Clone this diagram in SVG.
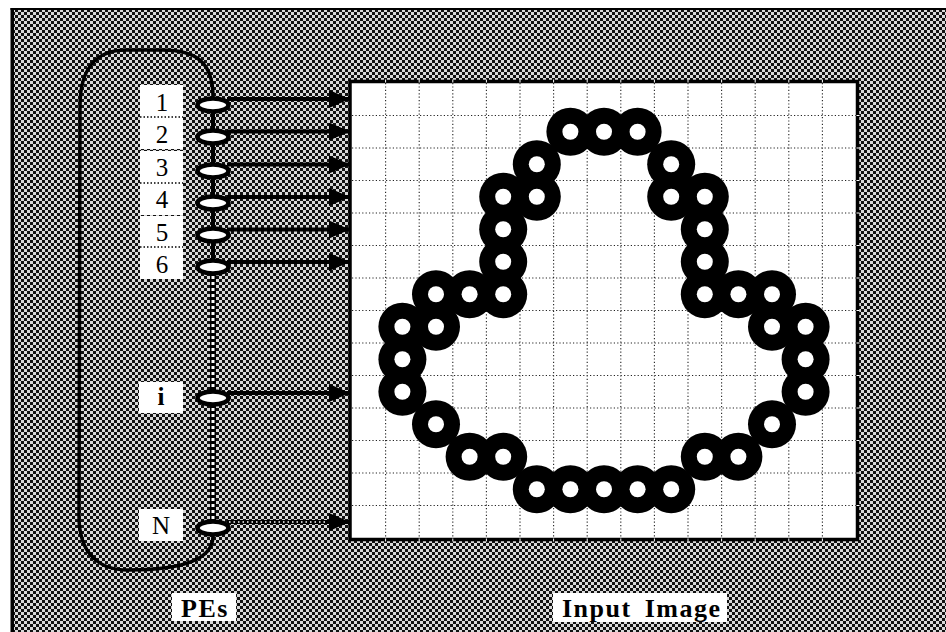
<svg xmlns="http://www.w3.org/2000/svg" xmlns:xlink="http://www.w3.org/1999/xlink" width="946" height="632" viewBox="0 0 946 632">
<defs>
  <pattern id="ht" width="6" height="6" patternUnits="userSpaceOnUse">
    <rect width="6" height="6" fill="#d8d8d8"/>
    <rect width="3" height="3" fill="#111"/>
    <rect x="3" y="3" width="3" height="3" fill="#111"/>
  </pattern>
  <marker id="ah" markerUnits="userSpaceOnUse" markerWidth="21" markerHeight="18" refX="20" refY="9" orient="auto">
    <path d="M0,0 L21,9 L0,18 z" fill="#000"/>
  </marker>
  <circle id="disc" r="24" fill="#000"/>
  <circle id="hole" r="8" fill="#fff"/>
</defs>
<style>
  .num { font-family: "Liberation Serif", "Times New Roman", serif; font-size: 25px; fill: #000; text-anchor: middle; }
  .big { font-family: "Liberation Serif", "Times New Roman", serif; font-size: 26px; font-weight: bold; fill: #000; letter-spacing: 1.5px; }
  .box { fill: #fff; }
  .sep { stroke: #000; stroke-width: 1.3; stroke-dasharray: 1.5 2; fill: none; }
  .pe { fill: #fff; stroke: #000; stroke-width: 4.5; }
  .arr { stroke: #000; stroke-width: 4; fill: none; marker-end: url(#ah); }
  .grid { stroke: #222; stroke-width: 1.1; stroke-dasharray: 1.2 2.2; fill: none; }
</style>

<!-- background -->
<rect x="0" y="0" width="946" height="632" fill="#fff"/>
<rect x="12" y="9" width="934" height="623" fill="url(#ht)"/>
<rect x="10.5" y="8" width="3.5" height="624" fill="#000"/>
<rect x="10.5" y="8" width="935.5" height="2" fill="#000"/>

<!-- input image -->
<g id="input-image">
  <rect x="350" y="81.5" width="507.5" height="458" fill="#fff" stroke="#000" stroke-width="3.5"/>
  <path class="grid" d="M385.6 83V538 M419.2 83V538 M452.8 83V538 M486.4 83V538 M520 83V538 M553.6 83V538 M587.2 83V538 M620.8 83V538 M654.4 83V538 M688 83V538 M721.6 83V538 M755.2 83V538 M788.8 83V538 M822.4 83V538
  M352 115.5H856 M352 148H856 M352 180.5H856 M352 213H856 M352 245.5H856 M352 278H856 M352 310.5H856 M352 343H856 M352 375.5H856 M352 408H856 M352 440.5H856 M352 473H856 M352 505.5H856"/>
  <path stroke="#fff" stroke-width="1" fill="none" d="M385.6 79.5v3 M419.2 79.5v3 M452.8 79.5v3 M486.4 79.5v3 M520 79.5v3 M553.6 79.5v3 M587.2 79.5v3 M620.8 79.5v3 M654.4 79.5v3 M688 79.5v3 M721.6 79.5v3 M755.2 79.5v3 M788.8 79.5v3 M822.4 79.5v3
  M385.6 538.5v3 M419.2 538.5v3 M452.8 538.5v3 M486.4 538.5v3 M520 538.5v3 M553.6 538.5v3 M587.2 538.5v3 M620.8 538.5v3 M654.4 538.5v3 M688 538.5v3 M721.6 538.5v3 M755.2 538.5v3 M788.8 538.5v3 M822.4 538.5v3
  M856.5 115.5h3 M856.5 148h3 M856.5 180.5h3 M856.5 213h3 M856.5 245.5h3 M856.5 278h3 M856.5 310.5h3 M856.5 343h3 M856.5 375.5h3 M856.5 408h3 M856.5 440.5h3 M856.5 473h3 M856.5 505.5h3"/>
  <g id="rings">
    <use href="#disc" x="570.4" y="131.75"/><use href="#disc" x="604" y="131.75"/><use href="#disc" x="637.6" y="131.75"/>
    <use href="#disc" x="536.8" y="164.25"/><use href="#disc" x="671.2" y="164.25"/>
    <use href="#disc" x="503.2" y="196.75"/><use href="#disc" x="536.8" y="196.75"/><use href="#disc" x="671.2" y="196.75"/><use href="#disc" x="704.8" y="196.75"/>
    <use href="#disc" x="503.2" y="229.25"/><use href="#disc" x="704.8" y="229.25"/>
    <use href="#disc" x="503.2" y="261.75"/><use href="#disc" x="704.8" y="261.75"/>
    <use href="#disc" x="436" y="294.25"/><use href="#disc" x="469.6" y="294.25"/><use href="#disc" x="503.2" y="294.25"/><use href="#disc" x="704.8" y="294.25"/><use href="#disc" x="738.4" y="294.25"/><use href="#disc" x="772" y="294.25"/>
    <use href="#disc" x="402.4" y="326.75"/><use href="#disc" x="436" y="326.75"/><use href="#disc" x="772" y="326.75"/><use href="#disc" x="805.6" y="326.75"/>
    <use href="#disc" x="402.4" y="359.25"/><use href="#disc" x="805.6" y="359.25"/>
    <use href="#disc" x="402.4" y="391.75"/><use href="#disc" x="805.6" y="391.75"/>
    <use href="#disc" x="436" y="424.25"/><use href="#disc" x="772" y="424.25"/>
    <use href="#disc" x="469.6" y="456.75"/><use href="#disc" x="503.2" y="456.75"/><use href="#disc" x="704.8" y="456.75"/><use href="#disc" x="738.4" y="456.75"/>
    <use href="#disc" x="536.8" y="489.25"/><use href="#disc" x="570.4" y="489.25"/><use href="#disc" x="604" y="489.25"/><use href="#disc" x="637.6" y="489.25"/><use href="#disc" x="671.2" y="489.25"/>
  </g>
  <g id="holes">
    <use href="#hole" x="570.4" y="131.75"/><use href="#hole" x="604" y="131.75"/><use href="#hole" x="637.6" y="131.75"/>
    <use href="#hole" x="536.8" y="164.25"/><use href="#hole" x="671.2" y="164.25"/>
    <use href="#hole" x="503.2" y="196.75"/><use href="#hole" x="536.8" y="196.75"/><use href="#hole" x="671.2" y="196.75"/><use href="#hole" x="704.8" y="196.75"/>
    <use href="#hole" x="503.2" y="229.25"/><use href="#hole" x="704.8" y="229.25"/>
    <use href="#hole" x="503.2" y="261.75"/><use href="#hole" x="704.8" y="261.75"/>
    <use href="#hole" x="436" y="294.25"/><use href="#hole" x="469.6" y="294.25"/><use href="#hole" x="503.2" y="294.25"/><use href="#hole" x="704.8" y="294.25"/><use href="#hole" x="738.4" y="294.25"/><use href="#hole" x="772" y="294.25"/>
    <use href="#hole" x="402.4" y="326.75"/><use href="#hole" x="436" y="326.75"/><use href="#hole" x="772" y="326.75"/><use href="#hole" x="805.6" y="326.75"/>
    <use href="#hole" x="402.4" y="359.25"/><use href="#hole" x="805.6" y="359.25"/>
    <use href="#hole" x="402.4" y="391.75"/><use href="#hole" x="805.6" y="391.75"/>
    <use href="#hole" x="436" y="424.25"/><use href="#hole" x="772" y="424.25"/>
    <use href="#hole" x="469.6" y="456.75"/><use href="#hole" x="503.2" y="456.75"/><use href="#hole" x="704.8" y="456.75"/><use href="#hole" x="738.4" y="456.75"/>
    <use href="#hole" x="536.8" y="489.25"/><use href="#hole" x="570.4" y="489.25"/><use href="#hole" x="604" y="489.25"/><use href="#hole" x="637.6" y="489.25"/><use href="#hole" x="671.2" y="489.25"/>
  </g>
</g>

<!-- connectors -->
<g id="connectors">
  <path d="M213 97 C213 62 196 50 162 50 L126 50 C97 50 80 68 80 106 L79 516 C79 555 100 570 128 570 C176 570 213 562 213 536" fill="none" stroke="#000" stroke-width="3.5"/>
  <path d="M213 105 V267" stroke="#000" stroke-width="4" fill="none"/>
  <path d="M213 273 V522" stroke="#000" stroke-width="6" fill="none"/>
  <path d="M213 276 V522" stroke="#fff" stroke-width="3" stroke-dasharray="3 3" fill="none"/>
  <line class="arr" x1="227" y1="99" x2="349" y2="99"/>
  <line class="arr" x1="227" y1="131.5" x2="349" y2="131.5"/>
  <line class="arr" x1="227" y1="164.5" x2="349" y2="164.5"/>
  <line class="arr" x1="227" y1="197" x2="349" y2="197"/>
  <line class="arr" x1="227" y1="229.5" x2="349" y2="229.5"/>
  <line class="arr" x1="227" y1="262" x2="349" y2="262"/>
  <line class="arr" x1="227" y1="393" x2="349" y2="393"/>
  <line class="arr" x1="227" y1="522" x2="349" y2="522"/>
  <line x1="229" y1="522" x2="328" y2="522" stroke="#fff" stroke-width="1.5" stroke-dasharray="1.5 3"/>
</g>

<!-- PE nodes -->
<g id="pe-1"><rect class="box" x="140" y="85" width="43" height="32"/><text class="num" x="162" y="111">1</text><ellipse class="pe" cx="213" cy="105" rx="15.5" ry="6.5"/></g>
<g id="pe-2"><rect class="box" x="140" y="117" width="43" height="32"/><text class="num" x="162" y="143">2</text><ellipse class="pe" cx="213" cy="137" rx="15.5" ry="6.5"/></g>
<g id="pe-3"><rect class="box" x="140" y="151" width="43" height="32"/><text class="num" x="162" y="176">3</text><ellipse class="pe" cx="213" cy="171" rx="15.5" ry="6.5"/></g>
<g id="pe-4"><rect class="box" x="140" y="183" width="43" height="32"/><text class="num" x="162" y="208">4</text><ellipse class="pe" cx="213" cy="203" rx="15.5" ry="6.5"/></g>
<g id="pe-5"><rect class="box" x="140" y="216" width="43" height="31"/><text class="num" x="162" y="241">5</text><ellipse class="pe" cx="213" cy="235" rx="15.5" ry="6.5"/></g>
<g id="pe-6"><rect class="box" x="140" y="247" width="43" height="32"/><text class="num" x="162" y="273">6</text><ellipse class="pe" cx="213" cy="267" rx="15.5" ry="6.5"/></g>
<path class="sep" d="M140 117H183 M140 183H183 M140 247H183"/>
<g id="pe-i"><rect class="box" x="139" y="382" width="44" height="31"/><text class="num" x="161" y="405" font-weight="bold">i</text><ellipse class="pe" cx="213" cy="398" rx="15.5" ry="6.5"/></g>
<g id="pe-N"><rect class="box" x="139" y="509" width="44" height="32"/><text class="num" x="161" y="534">N</text><ellipse class="pe" cx="213" cy="528" rx="15.5" ry="6.5"/></g>

<!-- captions -->
<g id="label-pes"><rect class="box" x="172" y="593" width="64" height="28"/><text class="big" x="181" y="617">PEs</text></g>
<g id="label-input"><rect class="box" x="553" y="593" width="174" height="29"/><text class="big" x="562" y="617" word-spacing="5">Input Image</text></g>
</svg>
